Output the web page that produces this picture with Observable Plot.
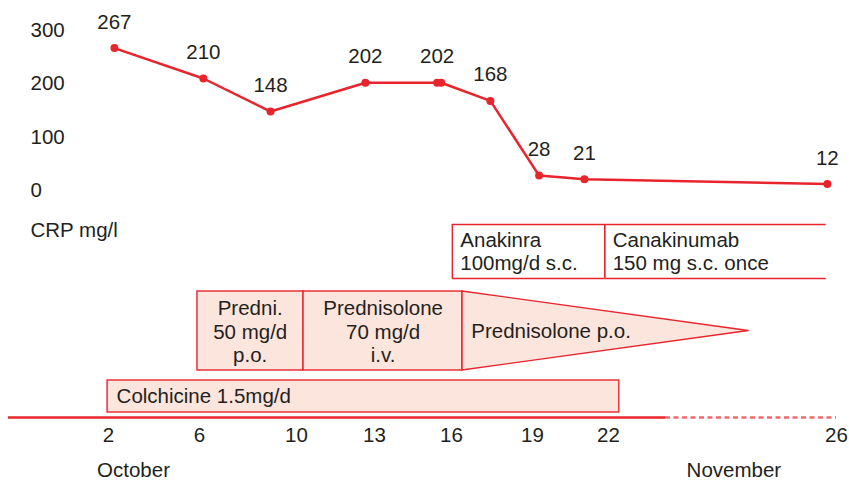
<!DOCTYPE html>
<html><head><meta charset="utf-8">
<script src="https://cdn.jsdelivr.net/npm/d3@7"></script>
<script src="https://cdn.jsdelivr.net/npm/@observablehq/plot@0.6"></script>
<style>
body{margin:0;background:#fff;}
#chart{width:849px;height:481px;overflow:hidden;background:#fff;}
#chart svg{display:block;overflow:visible;}
</style></head><body><div id="chart"></div>
<script>
// ---- data ----
const crpDays   = [2.26, 6.16, 8.93, 12.65, 15.44, 15.6, 17.44, 19.26, 21.05, 25.84];
const crpValues = [267, 210, 148, 202, 202, 202, 168, 28, 21, 12];
const crpLabels = ["267", "210", "148", "202", "202", "", "168", "28", "21", "12"];
const yTicks = [0, 100, 200, 300];
const yTitle = "CRP mg/l";

const dayTicks = [2, 6, 10, 13, 16, 19, 22, 26];
const monthNames = ["October", "November"];
const monthDays = [3.1, 24.2];

const bioNames = ["Anakinra\n100mg/d s.c.", "Canakinumab\n150 mg s.c. once"];
const bioStart = [16.03, 21.85];
const bioEnd   = [21.85, 25.82];

const predNames = ["Predni.\n50 mg/d\np.o.", "Prednisolone\n70 mg/d\ni.v.", "Prednisolone p.o."];
const predStart = [5.91, 10.27, 16.4];
const predEnd   = [10.27, 16.4, 24.46];

const colchNames = ["Colchicine 1.5mg/d"];
const colchStart = [1.96];
const colchEnd   = [22.19];

const timelineStart = -2.4, timelineBreak = 23, timelineEnd = 26;

// ---- build tables ----
const crp = crpDays.map((d, i) => ({day: d, value: crpValues[i], label: crpLabels[i]}));
const bio = bioNames.map((n, i) => ({name: n, x1: bioStart[i], x2: bioEnd[i]}));
const pred = predNames.map((n, i) => ({name: n, x1: predStart[i], x2: predEnd[i], mid: (predStart[i] + predEnd[i]) / 2}));
const colch = colchNames.map((n, i) => ({name: n, x1: colchStart[i], x2: colchEnd[i]}));

// ---- style ----
const RED = "#e8242c", FILL = "#fce5dc", INK = "#231f20";
const style = {fontFamily: "'Liberation Sans', Arial, Helvetica, sans-serif", fontSize: "20.5px", overflow: "visible", background: "transparent", color: INK};
// schematic (broken, non-uniform) time axis shared by all panels: day -> axis position
const schematic = d3.scaleLinear().domain(dayTicks).range([108, 199, 296, 374, 451, 532, 608, 836]);
const xScale = () => ({type: "linear", domain: [0, 849], range: [0, 849], transform: schematic, axis: null});
const base = {width: 849, marginLeft: 0, marginRight: 0, style};

const chart = document.getElementById("chart");

// Panel 1: CRP
chart.append(Plot.plot({
  ...base, height: 215, marginTop: 30, marginBottom: 25,
  x: xScale(), y: {domain: [0, 300]},
  marks: [
    Plot.axisY(yTicks, {tickSize: 0, tickPadding: 0, textAnchor: "start", dx: 30, label: null, fill: INK}),
    Plot.line(crp, {x: "day", y: "value", stroke: RED, strokeWidth: 2.5}),
    Plot.dot(crp, {x: "day", y: "value", r: 4, fill: RED}),
    Plot.text(crp, {x: "day", y: "value", text: "label", dy: -26, fill: INK})
  ]
}));

// Panel 2: biologics
chart.append(Plot.plot({
  ...base, height: 70, marginTop: 9, marginBottom: 7,
  x: xScale(), y: {domain: [0, 1], axis: null},
  marks: [
    Plot.text([yTitle], {frameAnchor: "top-left", dx: 30, dy: -2, fill: INK}),
    Plot.ruleY(bio.flatMap(d => [{...d, y: 0}, {...d, y: 1}]), {x1: "x1", x2: "x2", y: "y", stroke: RED, strokeWidth: 1.4}),
    Plot.ruleX(bio, {x: "x1", y1: 0, y2: 1, stroke: RED, strokeWidth: 1.4}),
    Plot.ruleX(bio.slice(0, 1), {x: "x2", y1: 0, y2: 1, stroke: RED, strokeWidth: 1.4}),
    Plot.text(bio, {x: "x1", y: 0.5, text: "name", textAnchor: "start", dx: 8, lineHeight: 1.12, fill: INK})
  ]
}));

// Panel 3: prednisolone
const taper = pred.slice(2).flatMap(d => [{x: d.x1, y1: 0, y2: 1}, {x: d.x2, y1: 0.5, y2: 0.5}]);
chart.append(Plot.plot({
  ...base, height: 91, marginTop: 6, marginBottom: 6,
  x: xScale(), y: {domain: [0, 1], axis: null},
  marks: [
    Plot.areaY(taper, {x: "x", y1: "y1", y2: "y2", fill: FILL, stroke: RED, strokeWidth: 1.4, curve: "linear"}),
    Plot.rect(pred.slice(0, 2), {x1: "x1", x2: "x2", y1: 0, y2: 1, fill: FILL, stroke: RED, strokeWidth: 1.4}),
    Plot.text(pred.slice(0, 2), {x: "mid", y: 0.5, text: "name", lineHeight: 1.15, fill: INK}),
    Plot.text(pred.slice(2), {x: "x1", y: 0.5, text: "name", textAnchor: "start", dx: 9, fill: INK})
  ]
}));

// Panel 4: colchicine
chart.append(Plot.plot({
  ...base, height: 38, marginTop: 4, marginBottom: 2,
  x: xScale(), y: {domain: [0, 1], axis: null},
  marks: [
    Plot.rect(colch, {x1: "x1", x2: "x2", y1: 0, y2: 1, fill: FILL, stroke: RED, strokeWidth: 1.4}),
    Plot.text(colch, {x: "x1", y: 0.5, text: "name", textAnchor: "start", dx: 9, fill: INK})
  ]
}));

// Panel 5: time axis
const months = monthNames.map((m, i) => ({name: m, day: monthDays[i]}));
chart.append(Plot.plot({
  ...base, height: 67, marginTop: 0, marginBottom: 64,
  x: xScale(), y: {domain: [0, 1], axis: null},
  marks: [
    Plot.ruleY([{x1: timelineStart, x2: timelineBreak}], {x1: "x1", x2: "x2", y: 0, stroke: RED, strokeWidth: 2.5}),
    Plot.ruleY([{x1: timelineBreak, x2: timelineEnd}], {x1: "x1", x2: "x2", y: 0, stroke: "#ef6a6a", strokeWidth: 2.5, strokeDasharray: "5,3.5"}),
    Plot.text(dayTicks, {x: d => d, y: 0, text: d => String(d), dy: 18, fill: INK}),
    Plot.text(months, {x: "day", y: 0, text: "name", dy: 53, fill: INK})
  ]
}));
</script>
</body></html>
